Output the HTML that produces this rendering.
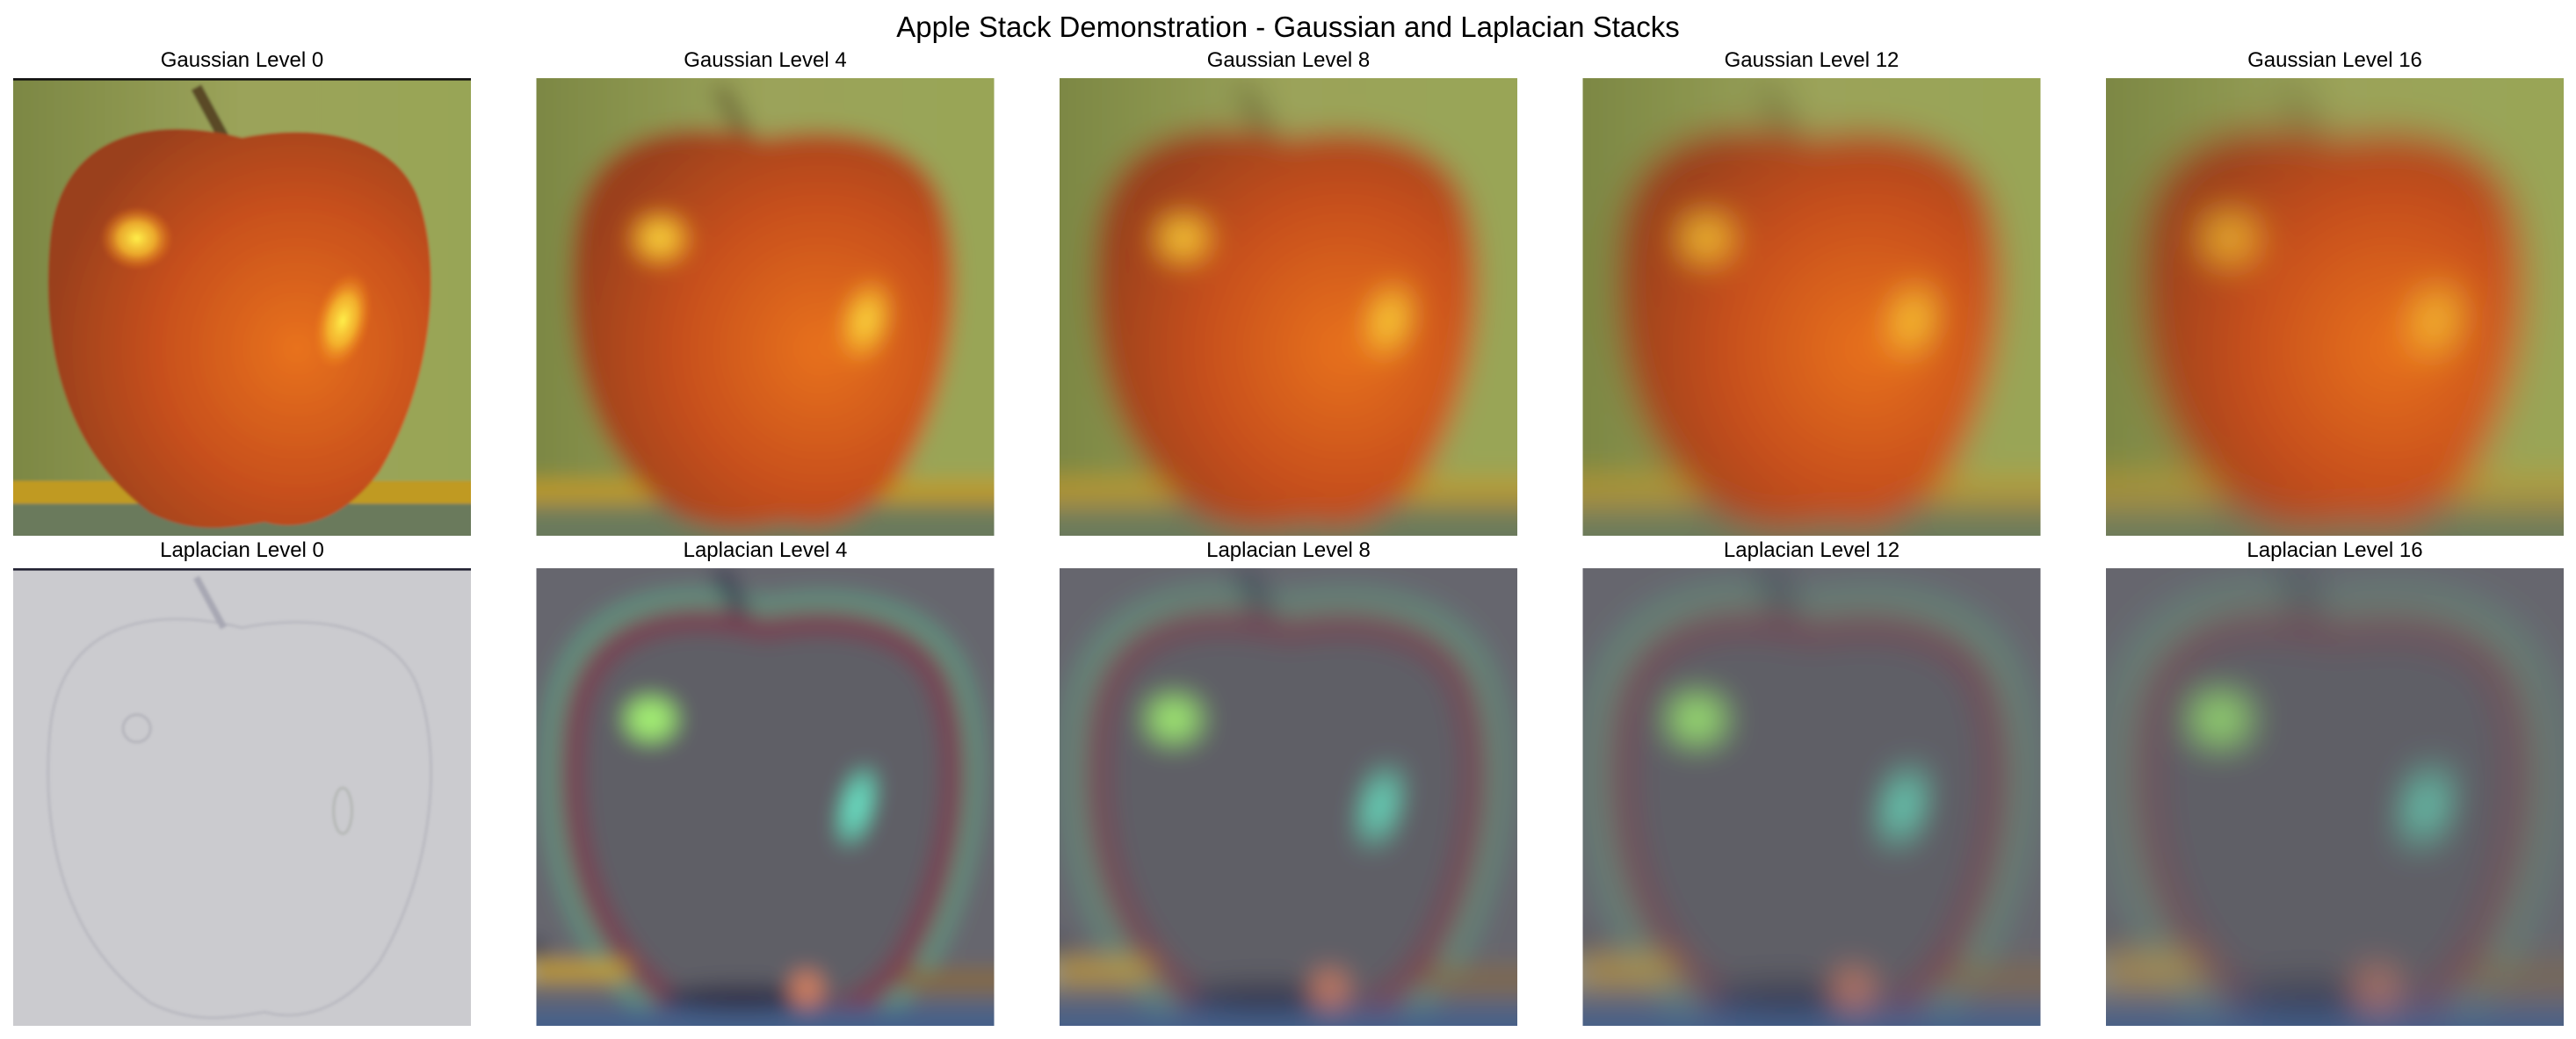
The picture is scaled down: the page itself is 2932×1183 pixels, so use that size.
<!DOCTYPE html>
<html><head><meta charset="utf-8"><style>
html,body{margin:0;padding:0;background:#fff;width:2932px;height:1183px;overflow:hidden}
svg text{font-family:"Liberation Sans","DejaVu Sans",sans-serif}
</style></head><body>
<svg id="fig" width="2932" height="1183" viewBox="0 0 2932 1183" xmlns="http://www.w3.org/2000/svg">
<text x="1466" y="42" font-size="33" text-anchor="middle" fill="#000">Apple Stack Demonstration - Gaussian and Laplacian Stacks</text>
</svg>
<script>
const levels=[0,4,8,12,16];
const blurs=[0.3,2.4,3.1,3.7,4.2];
const NS='http://www.w3.org/2000/svg';
const fig=document.getElementById('fig');
const defs=document.createElementNS(NS,'defs');
fig.appendChild(defs);
const APPLE='M 50 13 C 30 8, 10 12, 8 36 C 6 60, 12 82, 30 95 C 40 100, 48 98, 55 97 C 62 99, 72 97, 80 86 C 92 66, 94 40, 88 25 C 82 12, 65 10, 50 13 Z';
function mk(tag,attrs,parent){const e=document.createElementNS(NS,tag);for(const k in attrs)e.setAttribute(k,attrs[k]);parent.appendChild(e);return e;}
defs.innerHTML=`
<linearGradient id="bgG" x1="0" y1="0" x2="1" y2="0"><stop offset="0" stop-color="#76823f"/><stop offset="0.5" stop-color="#9ba35a"/><stop offset="1" stop-color="#98a656"/></linearGradient>
<radialGradient id="appleG" cx="0.65" cy="0.55" r="0.65"><stop offset="0" stop-color="#e8721c"/><stop offset="0.55" stop-color="#c8501a"/><stop offset="1" stop-color="#9a401c"/></radialGradient>
<radialGradient id="hl" cx="0.5" cy="0.5" r="0.5"><stop offset="0" stop-color="#fff04a"/><stop offset="0.5" stop-color="#f8c030" stop-opacity="0.8"/><stop offset="1" stop-color="#f08020" stop-opacity="0"/></radialGradient>
<radialGradient id="gs" cx="0.5" cy="0.5" r="0.5"><stop offset="0" stop-color="#b0ff78"/><stop offset="0.65" stop-color="#a0f070" stop-opacity="0.9"/><stop offset="1" stop-color="#80c060" stop-opacity="0"/></radialGradient>
<radialGradient id="cs" cx="0.5" cy="0.5" r="0.5"><stop offset="0" stop-color="#78ffe0"/><stop offset="0.65" stop-color="#60e0c0" stop-opacity="0.9"/><stop offset="1" stop-color="#60c0a0" stop-opacity="0"/></radialGradient>`;
levels.forEach((lv,i)=>{
  const f=mk('filter',{id:'b'+i,x:'-20%',y:'-20%',width:'140%',height:'140%'},defs);
  mk('feGaussianBlur',{stdDeviation:blurs[i]},f);
  const cp=mk('clipPath',{id:'c'+i},defs);mk('rect',{x:0,y:0,width:100,height:100},cp);
});
function panel(row,i){
  const x=15+i*595.5, y=row?647:89, s=521;
  const lab=(row?'Laplacian':'Gaussian')+' Level '+levels[i];
  const t=mk('text',{x:x+s/2,y:y-13,'font-size':24,'text-anchor':'middle',fill:'#000'},fig);
  t.textContent=lab;
  
  
  const g=mk('g',{transform:`translate(${x},${y}) scale(${s/100})`,'clip-path':`url(#c${i})`},fig);
  
  
  const inner=mk('g',{filter:`url(#b${i})`},g);
  if(!row){
    mk('rect',{x:-10,y:-10,width:120,height:120,fill:'url(#bgG)'},inner);
    mk('rect',{x:-10,y:88,width:120,height:5,fill:'#c09a20'},inner);
    mk('rect',{x:-10,y:93,width:120,height:17,fill:'#6a7a5c'},inner);
    mk('path',{d:'M 40 2 L 46 13',stroke:'#5a4a28','stroke-width':2.5},inner);
    mk('path',{d:APPLE,fill:'url(#appleG)'},inner);
    mk('ellipse',{cx:27,cy:35,rx:8,ry:7,fill:'url(#hl)'},inner);
    mk('ellipse',{cx:72,cy:53,rx:6,ry:11,fill:'url(#hl)',transform:'rotate(15 72 53)'},inner);
    if(i===0) mk('rect',{x:0,y:0,width:100,height:0.5,fill:'#111'},g);
  } else if(i===0){
    mk('rect',{x:-10,y:-10,width:120,height:120,fill:'#cbcbcf'},inner);
    mk('path',{d:APPLE,fill:'none',stroke:'#b6b6be','stroke-width':0.5},inner);
    mk('path',{d:'M 40 2 L 46 13',stroke:'#a8a8b4','stroke-width':1.5},inner);
    mk('ellipse',{cx:27,cy:35,rx:3,ry:3,fill:'none',stroke:'#b0b0b8','stroke-width':0.5},inner);
    mk('ellipse',{cx:72,cy:53,rx:2,ry:5,fill:'none',stroke:'#b0b4b0','stroke-width':0.5},inner);
    mk('rect',{x:0,y:0,width:100,height:0.5,fill:'#223'},g);
  } else {
    mk('rect',{x:-10,y:-10,width:120,height:120,fill:'#66666e'},inner);
    mk('path',{d:APPLE,fill:'none',stroke:'#5e9a82','stroke-width':7,opacity:0.9,transform:'translate(50 55) scale(1.06) translate(-50 -55)'},inner);
    mk('path',{d:APPLE,fill:'#5e5e66',stroke:'#7a3a50','stroke-width':5},inner);
    mk('path',{d:'M 40 0 L 45 10',stroke:'#282848','stroke-width':3},inner);
    mk('rect',{x:-10,y:86,width:30,height:4,fill:'#c8a010'},inner);
    mk('rect',{x:-10,y:86,width:8,height:4,fill:'#a0c0c8'},inner);
    mk('rect',{x:-10,y:82,width:12,height:3,fill:'#202040'},inner);
    mk('rect',{x:80,y:88,width:30,height:4,fill:'#8a6a30'},inner);
    mk('rect',{x:-10,y:96,width:120,height:14,fill:'#44608a'},inner);
    mk('ellipse',{cx:45,cy:94,rx:18,ry:3,fill:'#303048'},inner);
    mk('ellipse',{cx:59,cy:92,rx:3.5,ry:4,fill:'#d08060'},inner);
    mk('ellipse',{cx:25,cy:33,rx:7,ry:6,fill:'url(#gs)'},inner);
    mk('ellipse',{cx:70,cy:52,rx:3.5,ry:10,fill:'url(#cs)',transform:'rotate(15 70 52)'},inner);
  }
}
for(let r=0;r<2;r++)for(let i=0;i<levels.length;i++)panel(r,i);
</script>
</body></html>
